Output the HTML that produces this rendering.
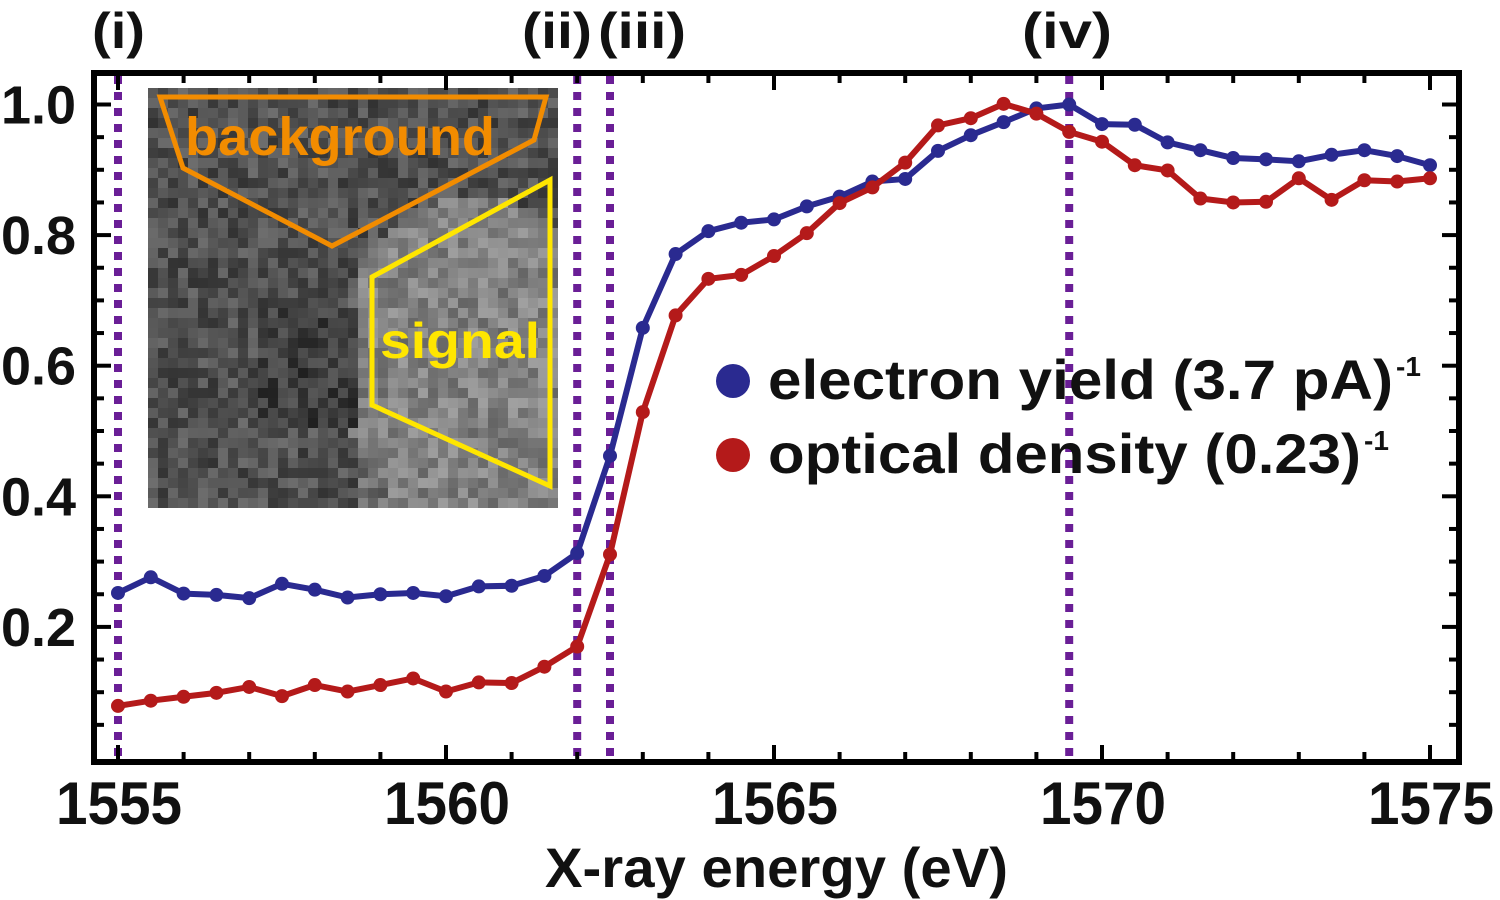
<!DOCTYPE html>
<html><head><meta charset="utf-8"><style>
html,body{margin:0;padding:0;background:#fff;width:1500px;height:900px;overflow:hidden}
svg text{font-family:"Liberation Sans",Arial,sans-serif;font-weight:bold;fill:#111}
</style></head><body>
<svg id="chart" width="1500" height="900" viewBox="0 0 1500 900" xmlns="http://www.w3.org/2000/svg">
<g id="inset"></g>
<g id="marks"></g>
<g id="frame"></g>
</svg>
<script>
const energies = [];
for (let i = 0; i <= 40; i++) energies.push(1555 + i * 0.5);
const electronYield = [0.252,0.276,0.251,0.249,0.244,0.266,0.257,0.245,0.250,0.252,0.247,0.262,0.263,0.278,0.313,
 0.462,0.658,0.771,0.806,0.819,0.824,0.844,0.859,0.882,0.886,0.929,0.953,0.973,0.994,
 1.000,0.970,0.969,0.942,0.930,0.918,0.916,0.913,0.923,0.930,0.921,0.907];
const opticalDensity = [0.079,0.087,0.093,0.099,0.108,0.094,0.111,0.101,0.111,0.121,0.101,0.115,0.114,0.139,0.170,
 0.311,0.529,0.677,0.733,0.739,0.768,0.803,0.849,0.873,0.911,0.968,0.979,1.001,0.986,
 0.958,0.943,0.907,0.899,0.856,0.850,0.851,0.887,0.854,0.884,0.882,0.887];
const xTicks = [1555,1560,1565,1570,1575];
const yTicks = [0.2,0.4,0.6,0.8,1.0];
const markerEnergies = [1555,1562,1562.5,1569.5];
const markerLabels = ["(i)","(ii)","(iii)","(iv)"];

const NS = "http://www.w3.org/2000/svg";
const X = e => 118 + (e - 1555) * 65.6;
const Y = v => 104.5 + (1 - v) * 653;
function mk(tag, attrs, parent, text){
  const el = document.createElementNS(NS, tag);
  for (const k in attrs) el.setAttribute(k, attrs[k]);
  if (text !== undefined) el.textContent = text;
  parent.appendChild(el); return el;
}
const marks = document.getElementById('marks');
const frame = document.getElementById('frame');
const inset = document.getElementById('inset');

// inset noisy image (decorative texture)
let seed = 12345;
function rnd(){ seed = (seed * 1103515245 + 12345) % 2147483648; return seed / 2147483648; }
const ix0 = 148, iy0 = 88, cs = 10;
for (let r = 0; r < 42; r++) for (let c = 0; c < 41; c++) {
  const px = ix0 + c * cs, py = iy0 + r * cs;
  let base = 80;
  const dx = px - 470, dy = py - 360;
  if (Math.sqrt(dx*dx*0.8 + dy*dy*0.5) < 120) base = 130;
  else if (px > 350 && py > 230) base = 110;
  if (px > 250 && px < 350 && py > 300 && py < 420) base = 62;
  const g = Math.max(20, Math.min(200, Math.round(base + (rnd() - 0.5) * 60)));
  mk('rect', {x:px, y:py, width:cs, height:cs, fill:`rgb(${g},${g},${g})`}, inset);
}
const bgPoly = mk('polygon', {points:"160,97 546,97 534,140 332,246 183,168", fill:"none", stroke:"#f28c00", "stroke-width":5}, inset);


const bgText = mk('text', {x:185, y:155, "font-size":54, textLength:310, lengthAdjust:"spacingAndGlyphs", style:"fill:#f28c00"}, inset, "background");


const sgPoly = mk('polygon', {points:"372,277 550,180 550,486 372,405", fill:"none", stroke:"#ffe600", "stroke-width":5}, inset);


const sgText = mk('text', {x:380, y:358, "font-size":50, textLength:160, lengthAdjust:"spacingAndGlyphs", style:"fill:#ffe600"}, inset, "signal");



// dotted marker lines
markerEnergies.forEach((e, i) => {
  const l = mk('line', {x1:X(e), x2:X(e), y1:76, y2:760, stroke:"#6a1e96", "stroke-width":8, "stroke-dasharray":"8 8"}, marks);
  
  
});
const labelX = [92, 522, 598, 1022];
const labelW = [53, 70, 88, 90];
markerLabels.forEach((s, i) => {
  const t = mk('text', {x:labelX[i], y:48, "font-size":50, textLength:labelW[i], lengthAdjust:"spacingAndGlyphs"}, marks, s);
  
  
});

// series
function series(vals, color, name){
  const pts = vals.map((v, i) => X(energies[i]) + ',' + Y(v)).join(' ');
  const pl = mk('polyline', {points:pts, fill:"none", stroke:color, "stroke-width":6, "stroke-linejoin":"round"}, marks);
  
  
  vals.forEach((v, i) => {
    const c = mk('circle', {cx:X(energies[i]), cy:Y(v), r:7, fill:color}, marks);
    
    
  });
}
series(electronYield, "#2a2a90", "electron-yield");
series(opticalDensity, "#b41a1a", "optical-density");

// legend
const lg = mk('g', {}, marks);


const d1 = mk('circle', {cx:733, cy:381, r:17, fill:"#2a2a90"}, lg);


const t1 = mk('text', {x:768, y:399, "font-size":56, textLength:625, lengthAdjust:"spacingAndGlyphs"}, lg, "electron yield (3.7 pA)");


const s1 = mk('text', {x:1396, y:376, "font-size":28}, lg, "-1");


const d2 = mk('circle', {cx:733, cy:455, r:17, fill:"#b41a1a"}, lg);


const t2 = mk('text', {x:768, y:473, "font-size":56, textLength:593, lengthAdjust:"spacingAndGlyphs"}, lg, "optical density (0.23)");


const s2 = mk('text', {x:1364, y:450, "font-size":28}, lg, "-1");



// frame and ticks
const fr = mk('rect', {x:94, y:73, width:1365, height:689, fill:"none", stroke:"#000", "stroke-width":6}, frame);


for (let e = 1555; e <= 1575; e++) {
  const major = (e % 5 === 0);
  const len = major ? 14 : 7;
  mk('line', {x1:X(e), x2:X(e), y1:759, y2:759-len, stroke:"#000", "stroke-width":4}, frame);
  mk('line', {x1:X(e), x2:X(e), y1:76, y2:76+len, stroke:"#000", "stroke-width":4}, frame);
}
for (let k = 1; k <= 20; k++) {
  const v = k * 0.05; if (Y(v) < 76) continue;
  const major = (k % 4 === 0);
  const len = major ? 14 : 7;
  mk('line', {x1:97, x2:97+len, y1:Y(v), y2:Y(v), stroke:"#000", "stroke-width":4}, frame);
  mk('line', {x1:1456, x2:1456-len, y1:Y(v), y2:Y(v), stroke:"#000", "stroke-width":4}, frame);
}
xTicks.forEach(e => {
  const t = mk('text', {x:X(e)-62, y:824, "font-size":60, textLength:126, lengthAdjust:"spacingAndGlyphs"}, frame, String(e));
  
  
});
yTicks.forEach(v => {
  const t = mk('text', {x:1, y:Y(v)+19, "font-size":54, textLength:75, lengthAdjust:"spacingAndGlyphs"}, frame, v.toFixed(1));
  
  
});
const xt = mk('text', {x:545, y:887, "font-size":56, textLength:463, lengthAdjust:"spacingAndGlyphs"}, frame, "X-ray energy (eV)");


</script>
</body></html>
